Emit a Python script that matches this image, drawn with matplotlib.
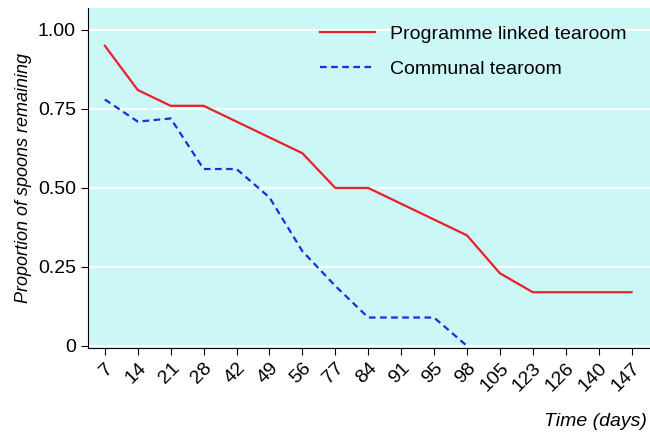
import matplotlib.pyplot as plt

days = ['7', '14', '21', '28', '42', '49', '56', '77', '84', '91', '95', '98',
        '105', '123', '126', '140', '147']
programme = [0.95, 0.81, 0.76, 0.76, 0.71, 0.66, 0.61, 0.50, 0.50, 0.45, 0.40, 0.35,
             0.23, 0.17, 0.17, 0.17, 0.17]
communal = [0.78, 0.71, 0.72, 0.56, 0.56, 0.47, 0.30, 0.19, 0.09, 0.09, 0.09, 0.0]
yticks = [0, 0.25, 0.50, 0.75, 1.00]
ylabels = ['0', '0.25', '0.50', '0.75', '1.00']

plt.rcParams['font.family'] = ['Liberation Sans Narrow', 'Liberation Sans', 'DejaVu Sans']

fig = plt.figure(figsize=(6.5, 4.37), dpi=100)
ax = fig.add_axes([0.135, 0.204, 0.865, 0.778])
ax.set_facecolor('#ccf7f7')

x = list(range(len(days)))
ax.plot(x, programme, color='#e8202a', linewidth=1.6, label='Programme linked tearoom')
ax.plot(x[:len(communal)], communal, color='#1a2ee0', linewidth=1.6, linestyle=(0, (3, 2)),
        label='Communal tearoom')

ax.set_xlim(-0.52, 16.56)
ax.set_ylim(-0.006, 1.07)
ax.set_yticks(yticks)
ax.set_yticklabels(ylabels, fontsize=14)
ax.set_xticks(x)
ax.set_xticklabels(days, rotation=45, ha='right', rotation_mode='anchor', fontsize=14)
ax.yaxis.grid(True, color='white', linewidth=1.5)
ax.set_axisbelow(True)
for s in ['top', 'right']:
    ax.spines[s].set_visible(False)
ax.tick_params(direction='out', length=5)

ax.set_ylabel('Proportion of spoons remaining', fontsize=13, style='italic')
fig.text(0.995, 0.025, 'Time (days)', ha='right', fontsize=14, style='italic')
ax.legend(loc='upper right', frameon=False, fontsize=14, handlelength=2.8,
          labelspacing=0.9, bbox_to_anchor=(0.99, 1.0))

fig.savefig('out.png', dpi=100)
